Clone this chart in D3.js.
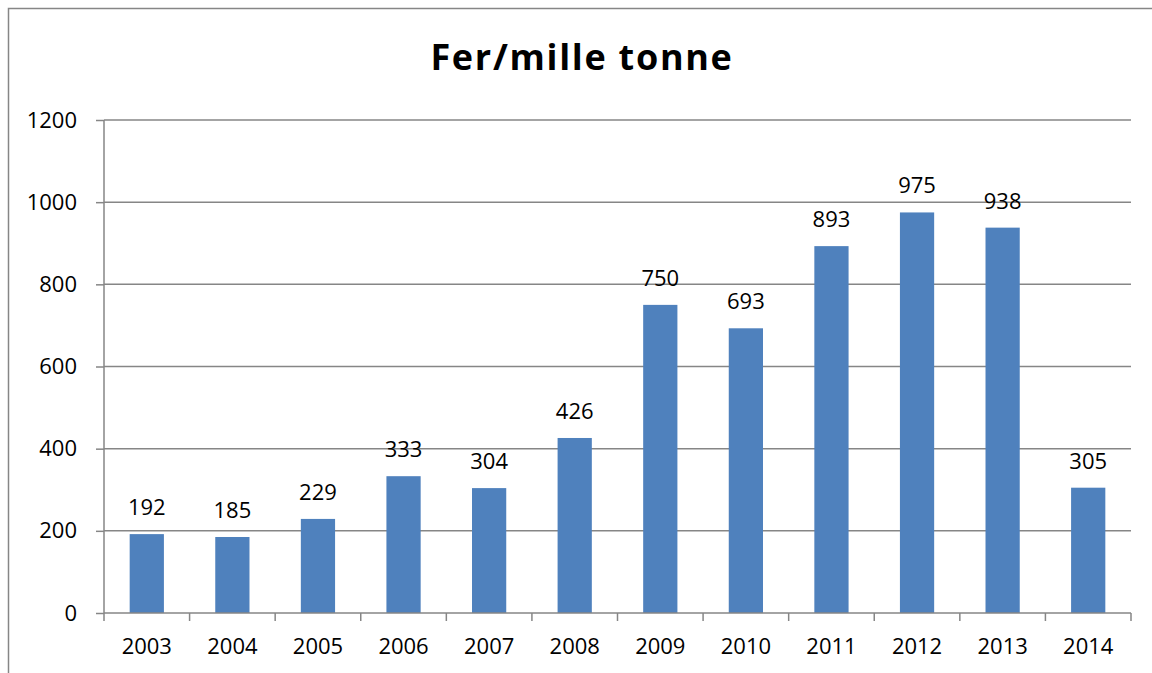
<!DOCTYPE html>
<html><head><meta charset="utf-8">
<script src="https://cdn.jsdelivr.net/npm/d3@7"></script>
<style>body{margin:0;background:#fff}svg{display:block}</style>
</head><body>
<script>
const years = ["2003","2004","2005","2006","2007","2008","2009","2010","2011","2012","2013","2014"];
const values = [192,185,229,333,304,426,750,693,893,975,938,305];
const yTicks = [0,200,400,600,800,1000,1200];
const title = "Fer/mille tonne";

(function(){
const W=1152,H=673;
const svg=d3.select("body").append("svg").attr("width",W).attr("height",H);
const font="'Open Sans', sans-serif";
const fs=22;
svg.append("rect").attr("x",8.5).attr("y",8.5).attr("width",W+10).attr("height",H+10)
  .attr("fill","none").attr("stroke","#868686").attr("stroke-width",1.5);

const pL=104,pR=1131,pT=120,pB=613;
const x=d3.scaleBand().domain(years).range([pL,pR]).paddingInner(0.6).paddingOuter(0.3);
const y=d3.scaleLinear().domain([0,1200]).range([pB,pT]);

svg.append("g").selectAll("line").data(yTicks.filter(d=>d>0)).join("line")
  .attr("x1",pL).attr("x2",pR).attr("y1",d=>y(d)).attr("y2",d=>y(d))
  .attr("stroke","#868686").attr("stroke-width",1.5);

svg.append("g").selectAll("rect").data(values).join("rect")
  .attr("x",(d,i)=>x(years[i])).attr("width",x.bandwidth())
  .attr("y",d=>y(d)).attr("height",d=>pB-y(d)).attr("fill","#4F81BD");

const ya=svg.append("g").attr("transform",`translate(${pL},0)`)
  .call(d3.axisLeft(y).tickValues(yTicks).tickFormat(d3.format("d")).tickSize(8).tickPadding(19));
ya.select(".domain").attr("stroke","#868686").attr("stroke-width",1.5).attr("d",`M0,${pT}V${pB}`);
ya.selectAll(".tick line").attr("stroke","#868686").attr("stroke-width",1.5);
ya.selectAll("text").attr("font-family",font).attr("font-size",fs).attr("fill","#000");

const xa=svg.append("g").attr("transform",`translate(0,${pB})`)
  .call(d3.axisBottom(x).tickSize(0).tickPadding(25));
xa.select(".domain").attr("stroke","#868686").attr("stroke-width",1.5).attr("d",`M${pL},0H${pR}`);
xa.selectAll("text").attr("font-family",font).attr("font-size",fs).attr("fill","#000");
const step=x.step();
svg.append("g").selectAll("line").data(d3.range(years.length+1)).join("line")
  .attr("x1",i=>pL+i*step).attr("x2",i=>pL+i*step)
  .attr("y1",pB).attr("y2",pB+8)
  .attr("stroke","#868686").attr("stroke-width",1.5);

svg.append("g").selectAll("text").data(values).join("text")
  .attr("x",(d,i)=>x(years[i])+x.bandwidth()/2).attr("y",d=>y(d)-19)
  .attr("text-anchor","middle").attr("font-family",font).attr("font-size",fs).attr("fill","#000")
  .text(d=>d);

svg.append("text").attr("x",582).attr("y",70).attr("text-anchor","middle")
  .attr("font-family",font).attr("font-weight","bold").attr("font-size",36)
  .attr("letter-spacing","1.7px").attr("fill","#000").text(title);
})();
</script>
</body></html>
